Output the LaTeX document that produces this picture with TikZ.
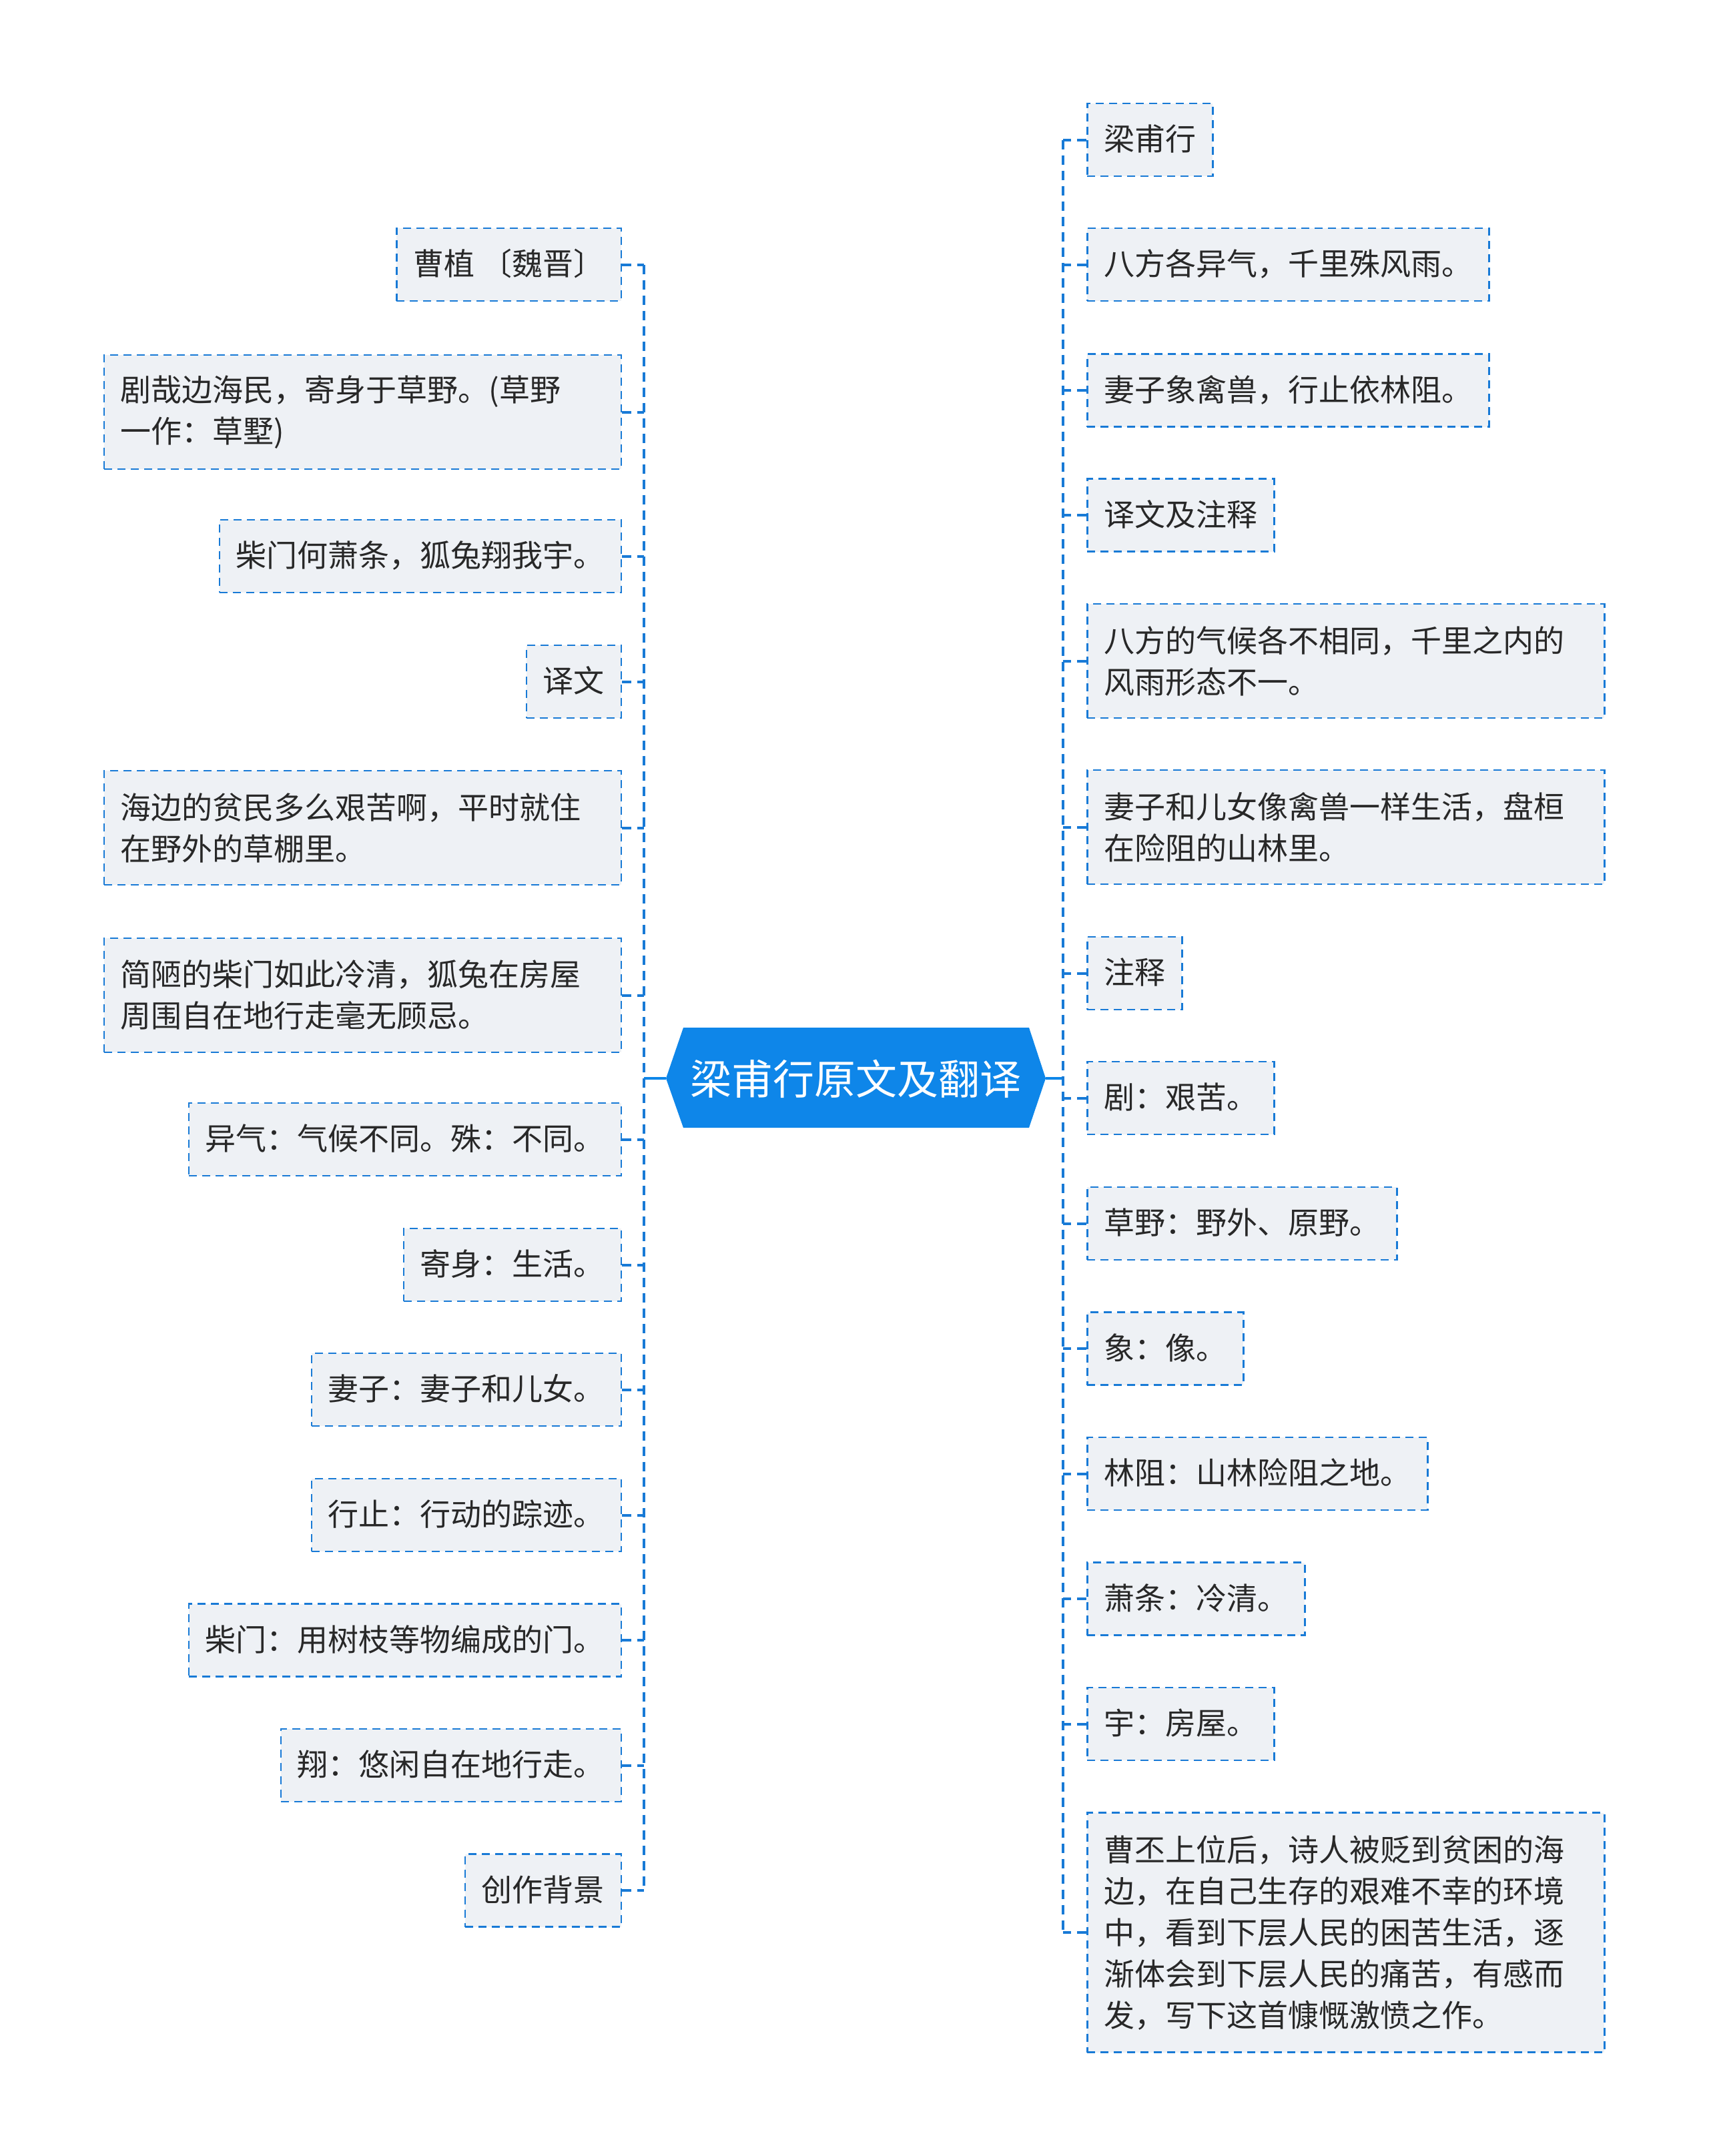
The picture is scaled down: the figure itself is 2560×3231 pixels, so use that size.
\documentclass[tikz,border=0pt]{standalone}
\usepackage{fontspec}
\setmainfont{Noto Sans CJK SC}
\definecolor{hexfill}{RGB}{14,134,233}
\definecolor{boxfill}{RGB}{238,241,245}
\definecolor{dashblue}{RGB}{24,122,214}
\definecolor{textcol}{RGB}{40,40,40}
\tikzset{
  leaf/.style={draw=dashblue, dash pattern=on 12pt off 8pt, line width=2.5pt, fill=boxfill,
    text=textcol, font=\fontsize{46pt}{62pt}\selectfont, inner xsep=25pt, inner ysep=0pt,
    minimum height=109pt, align=left},
  onel/.style={text height=39pt, text depth=7pt},
  multi/.style={text width=725pt},
  lnode/.style={leaf, anchor=east},
  rnode/.style={leaf, anchor=west},
  conn/.style={draw=dashblue, line width=4pt, dash pattern=on 14pt off 9pt},
  rootline/.style={draw=hexfill, line width=4pt},
}
\begin{document}
\begin{tikzpicture}[x=1pt,y=-1pt]
\useasboundingbox (0,0) rectangle (2560,3231);
% central node
\fill[hexfill] (998,1616) -- (1024,1540) -- (1542,1540) -- (1567,1616) -- (1542,1690) -- (1024,1690) -- cycle;
\node[text=white, font=\fontsize{62pt}{70pt}\selectfont, inner sep=0pt] (root) at (1282.5,1617) {梁甫行原文及翻译};
\coordinate (rootL) at (998,1616);
\coordinate (rootR) at (1567,1616);
\coordinate (lt) at (965,1616);
\coordinate (rt) at (1593,1616);
% left nodes
\node[lnode,onel] (L1) at (932,396.5) {曹植 〔魏晋〕};
\node[lnode,multi,minimum height=171pt] (L2) at (932,617.5) {剧哉边海民，寄身于草野。(草野\\一作：草墅)};
\node[lnode,onel] (L3) at (932,833.5) {柴门何萧条，狐兔翔我宇。};
\node[lnode,onel] (L4) at (932,1021.5) {译文};
\node[lnode,multi,minimum height=171pt] (L5) at (932,1240.5) {海边的贫民多么艰苦啊，平时就住\\在野外的草棚里。};
\node[lnode,multi,minimum height=171pt] (L6) at (932,1491.5) {简陋的柴门如此冷清，狐兔在房屋\\周围自在地行走毫无顾忌。};
\node[lnode,onel] (L7) at (932,1707.5) {异气：气候不同。殊：不同。};
\node[lnode,onel] (L8) at (932,1895.5) {寄身：生活。};
\node[lnode,onel] (L9) at (932,2082.5) {妻子：妻子和儿女。};
\node[lnode,onel] (L10) at (932,2270.5) {行止：行动的踪迹。};
\node[lnode,onel] (L11) at (932,2458) {柴门：用树枝等物编成的门。};
\node[lnode,onel] (L12) at (932,2645.5) {翔：悠闲自在地行走。};
\node[lnode,onel] (L13) at (932,2833) {创作背景};
% right nodes
\node[rnode,onel] (R1) at (1628,209.5) {梁甫行};
\node[rnode,onel] (R2) at (1628,396.5) {八方各异气，千里殊风雨。};
\node[rnode,onel] (R3) at (1628,585) {妻子象禽兽，行止依林阻。};
\node[rnode,onel] (R4) at (1628,772) {译文及注释};
\node[rnode,multi,minimum height=171pt] (R5) at (1628,990.5) {八方的气候各不相同，千里之内的\\风雨形态不一。};
\node[rnode,multi,minimum height=171pt] (R6) at (1628,1239.5) {妻子和儿女像禽兽一样生活，盘桓\\在险阻的山林里。};
\node[rnode,onel] (R7) at (1628,1458.5) {注释};
\node[rnode,onel] (R8) at (1628,1645.5) {剧：艰苦。};
\node[rnode,onel] (R9) at (1628,1833.5) {草野：野外、原野。};
\node[rnode,onel] (R10) at (1628,2021) {象：像。};
\node[rnode,onel] (R11) at (1628,2208.5) {林阻：山林险阻之地。};
\node[rnode,onel] (R12) at (1628,2396) {萧条：冷清。};
\node[rnode,onel] (R13) at (1628,2583.5) {宇：房屋。};
\node[rnode,multi,minimum height=359pt] (R14) at (1628,2896) {曹丕上位后，诗人被贬到贫困的海\\边，在自己生存的艰难不幸的环境\\中，看到下层人民的困苦生活，逐\\渐体会到下层人民的痛苦，有感而\\发，写下这首慷慨激愤之作。};
% connectors
\draw[rootline] (rootL) -- (lt);
\draw[rootline] (rootR) -- (rt);
\draw[conn] (L1.east -| lt) -- (L13.east -| lt);
\draw[conn] (R1.west -| rt) -- (R14.west -| rt);
\foreach \i in {1,...,13} {\draw[conn] (L\i.east) -- (L\i.east -| lt);}
\foreach \i in {1,...,14} {\draw[conn] (R\i.west) -- (R\i.west -| rt);}
\end{tikzpicture}
\end{document}
